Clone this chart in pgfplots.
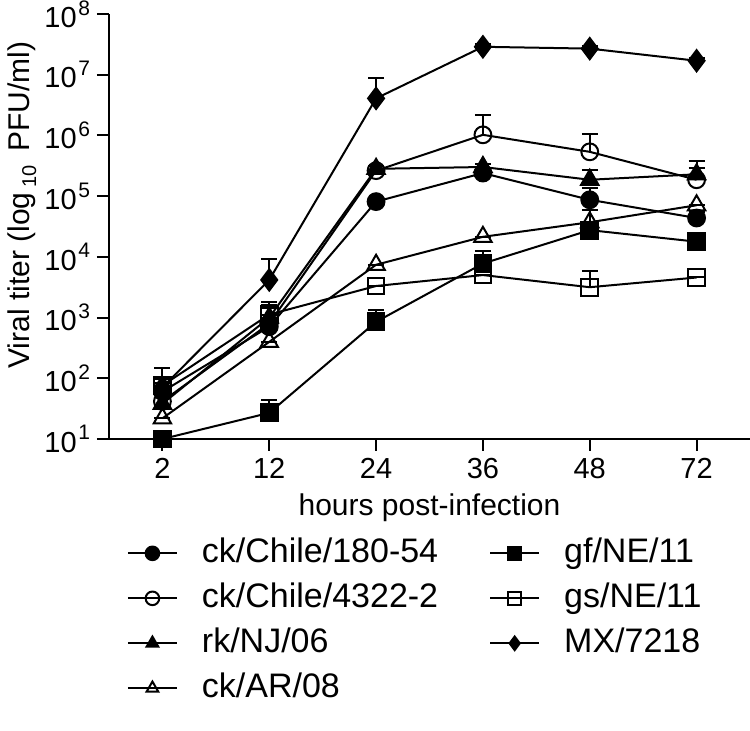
\documentclass[border=0pt]{standalone}
\usepackage{fontspec}
\setmainfont{Liberation Sans}
\usepackage{pgfplots}
\pgfplotsset{compat=1.18}

% 10 with a raised exponent, as on the y axis
\newcommand\tp[1]{10\kern0.8pt\raisebox{0.8ex}{\fontsize{10.5}{12}\selectfont #1}}

\pgfplotsset{
  ser/.style={black, line width=1pt, mark size=4.2pt,
    error bars/y dir=plus, error bars/y explicit,
    error bars/error bar style={line width=1pt},
    error bars/error mark options={rotate=90, mark size=4pt, line width=1pt}},
}

\begin{document}
\begin{tikzpicture}
\useasboundingbox (-54.5pt,-146pt) rectangle (320.5pt,219.5pt);
\begin{axis}[
  scale only axis, width=320.5pt, height=212.5pt,
  xmin=-0.5, xmax=5.5, ymin=1, ymax=8,
  axis lines=left, axis line style={-, line width=1pt},
  xtick={0,...,5}, xticklabels={2,12,24,36,48,72},
  ytick={1,...,8},
  yticklabels={\tp{1},\tp{2},\tp{3},\tp{4},\tp{5},\tp{6},\tp{7},\tp{8}},
  tick align=outside, major tick length=6pt, tick style={line width=1pt, black},
  minor tick num=0,
  tick label style={font=\fontsize{14.5}{17}\selectfont},
  label style={font=\fontsize{15}{18}\selectfont},
  xlabel={hours post-infection},
  ylabel={Viral titer (log\,\raisebox{-0.45ex}{\fontsize{10}{12}\selectfont 10}\, PFU/ml)},
  xlabel style={at={(axis description cs:0.5,-0.162)}, anchor=center},
  ylabel style={at={(axis description cs:-0.136,0.55)}, anchor=center},
  clip=false,
  legend style={at={(axis description cs:0.018,-0.214)}, anchor=north west,
    draw=none, fill=none, font=\fontsize{17}{20}\selectfont,
    /tikz/every even column/.append style={column sep=24.5pt},
    row sep=3.5pt, nodes={inner sep=1pt, text height=13pt, text depth=4pt}},
  legend columns=2, legend cell align=left,
  legend image code/.code={
    \draw[mark size=3.4pt, mark repeat=2, mark phase=2]
      plot coordinates {(0pt,0pt) (12.25pt,0pt) (24.5pt,0pt)};
    \path (35.5pt,0pt);},
]
% ck/Chile/180-54
\addplot[ser, mark=*] coordinates {
  (0,1.78) +- (0,0.20) (1,2.85) +- (0,0.20) (2,4.91) +- (0,0.05)
  (3,5.38) +- (0,0.05) (4,4.94) +- (0,0.19) (5,4.64) +- (0,0.10)};
\addlegendentry{ck/Chile/180-54}
% gf/NE/11
\addplot[ser, mark=square*] coordinates {
  (0,1.00) +- (0,0.10) (1,1.43) +- (0,0.21) (2,2.93) +- (0,0.19)
  (3,3.89) +- (0,0.21) (4,4.44) +- (0,0.10) (5,4.25) +- (0,0.05)};
\addlegendentry{gf/NE/11}
% ck/Chile/4322-2
\addplot[ser, mark=o] coordinates {
  (0,1.62) +- (0,0.30) (1,2.90) +- (0,0.25) (2,5.42) +- (0,0)
  (3,6.01) +- (0,0.33) (4,5.73) +- (0,0.29) (5,5.27) +- (0,0.31)};
\addlegendentry{ck/Chile/4322-2}
% gs/NE/11
\addplot[ser, mark=square] coordinates {
  (0,1.88) +- (0,0.29) (1,3.05) +- (0,0.20) (2,3.52) +- (0,0)
  (3,3.70) +- (0,0) (4,3.50) +- (0,0.27) (5,3.66) +- (0,0)};
\addlegendentry{gs/NE/11}
% rk/NJ/06
\addplot[ser, mark=triangle*, mark size=5pt] coordinates {
  (0,1.58) +- (0,0.30) (1,3.00) +- (0,0.20) (2,5.45) +- (0,0.05)
  (3,5.48) +- (0,0.05) (4,5.27) +- (0,0.16) (5,5.36) +- (0,0.10)};
\addlegendentry{rk/NJ/06}
% MX/7218
\addplot[ser, mark=diamond*, mark size=5.3pt] coordinates {
  (0,1.85) +- (0,0.15) (1,3.62) +- (0,0.34) (2,6.61) +- (0,0.34)
  (3,7.46) +- (0,0.05) (4,7.43) +- (0,0.05) (5,7.23) +- (0,0.05)};
\addlegendentry{MX/7218}
% ck/AR/08
\addplot[ser, mark=triangle, mark size=5pt] coordinates {
  (0,1.34) +- (0,0) (1,2.60) +- (0,0) (2,3.87) +- (0,0)
  (3,4.33) +- (0,0) (4,4.57) +- (0,0.20) (5,4.85) +- (0,0)};
\addlegendentry{ck/AR/08}
\end{axis}
\end{tikzpicture}
\end{document}
